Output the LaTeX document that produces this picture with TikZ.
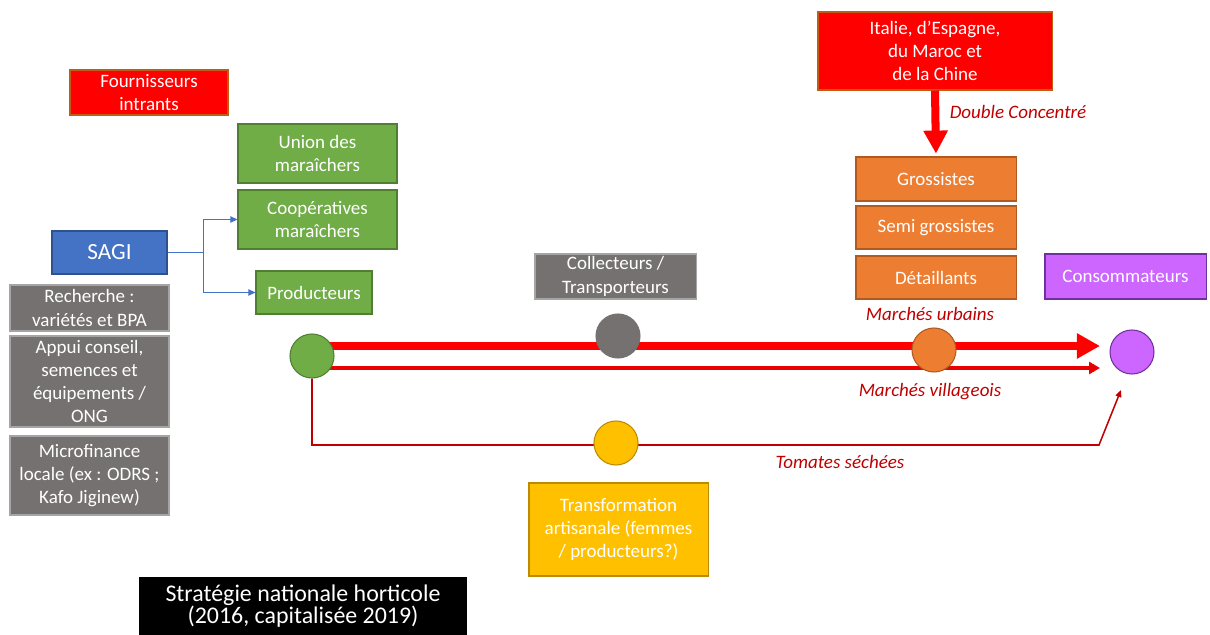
\documentclass[tikz,border=0pt]{standalone}
\usepackage{fontspec}
\setmainfont{Carlito}
\usepackage{tikz}
\usetikzlibrary{arrows.meta,backgrounds}
\definecolor{figred}{RGB}{255,0,0}
\definecolor{figredline}{RGB}{197,90,17}
\definecolor{figgreen}{RGB}{112,173,71}
\definecolor{figgreenline}{RGB}{80,126,50}
\definecolor{figblue}{RGB}{68,114,196}
\definecolor{figblueline}{RGB}{47,82,143}
\definecolor{figgrey}{RGB}{118,113,113}
\definecolor{figgreyline}{RGB}{165,165,165}
\definecolor{figorange}{RGB}{237,125,49}
\definecolor{figorangeline}{RGB}{174,90,33}
\definecolor{figpurple}{RGB}{204,102,255}
\definecolor{figpurpleline}{RGB}{112,48,160}
\definecolor{figyellow}{RGB}{255,192,0}
\definecolor{figyellowline}{RGB}{188,140,0}
\definecolor{figlab}{RGB}{192,0,0}
\definecolor{figflow}{RGB}{235,0,0}
\tikzset{
  box/.style   ={rectangle, line width=0.75pt, text=white, align=center, inner sep=1pt,
                 font=\fontsize{13.5}{16.5}\selectfont},
  redbox/.style={box, fill=figred, draw=figredline},
  grnbox/.style={box, fill=figgreen, draw=figgreenline},
  grybox/.style={box, fill=figgrey, draw=figgreyline},
  orgbox/.style={box, fill=figorange, draw=figorangeline},
  dot/.style   ={circle, minimum size=1.1cm, inner sep=0pt, line width=0.75pt},
  lab/.style   ={font=\fontsize{13.5}{16}\selectfont\itshape, text=figlab, inner sep=1pt},
  bigflow/.style ={draw=figred, line width=5pt, -{Triangle[length=16.4pt,width=17pt]}},
  thinflow/.style={draw=figflow, line width=2.2pt, -{Triangle[length=7.8pt,width=8.5pt]}},
  tomflow/.style ={draw=figlab, line width=1.1pt, -{Triangle[length=5pt,width=4.3pt]}},
  sagiptr/.style ={draw=figblue, line width=0.75pt, -{Triangle[length=5pt,width=4.5pt]}},
}

\begin{document}
\begin{tikzpicture}[x=0.025cm, y=-0.025cm]
  \useasboundingbox (0,0) rectangle (1210,635);

  % actors on the left
  \node[redbox, minimum width=3.95cm, minimum height=1.125cm] (fourn) at (149,92.5) {Fournisseurs\\intrants};
  \node[grnbox, minimum width=3.975cm, minimum height=1.475cm] (union) at (317.5,153.5) {Union des\\maraîchers};
  \node[grnbox, minimum width=3.975cm, minimum height=1.475cm] (coop) at (317.5,219.5) {Coopératives\\maraîchers};
  \node[box, fill=figblue, draw=figblueline, minimum width=2.875cm, minimum height=1.075cm,
        font=\fontsize{16.5}{20}\selectfont] (sagi) at (109.5,252.5) {SAGI};
  \node[grnbox, minimum width=2.9cm, minimum height=1.075cm] (prod) at (314,292.5) {Producteurs};
  \node[grybox, minimum width=3.975cm, minimum height=1.15cm] (rech) at (89.5,308) {Recherche :\\variétés et BPA};
  \node[grybox, minimum width=3.975cm, minimum height=2.275cm] (appui) at (89.5,381.5) {Appui conseil,\\semences et\\équipements /\\ONG};
  \node[grybox, minimum width=3.975cm, minimum height=1.975cm] (micro) at (89.5,475.5) {Microfinance\\locale (ex : ODRS ;\\Kafo Jiginew)};

  \draw[sagiptr] (sagi.east) -- ++(36,0) |- (coop.west);
  \draw[sagiptr] (sagi.east) -- ++(36,0) |- (prod.west);

  % middle and right
  \node[grybox, minimum width=4.025cm, minimum height=1.125cm] (coll) at (615.5,276.5) {Collecteurs /\\Transporteurs};
  \node[box, fill=figyellow, draw=figyellowline, minimum width=4.475cm, minimum height=2.325cm] (transf) at (618.5,529.5) {Transformation\\artisanale (femmes\\/ producteurs?)};
  \node[redbox, minimum width=5.85cm, minimum height=1.95cm] (impo) at (935,51) {Italie, d’Espagne,\\du Maroc et\\de la Chine};
  \node[orgbox, minimum width=4cm, minimum height=1.1cm] (gros) at (936,179) {Grossistes};
  \node[orgbox, minimum width=4cm, minimum height=1.075cm] (semi) at (936,227.5) {Semi grossistes};
  \node[orgbox, minimum width=4cm, minimum height=1.075cm] (detail) at (936,277.5) {Détaillants};
  \node[box, fill=figpurple, draw=figpurpleline, minimum width=4.025cm, minimum height=1.125cm] (cons) at (1125.5,276.5) {Consommateurs};

  \draw[draw=figred, line width=5.7pt, -{Triangle[length=16.4pt,width=16.4pt]}, shorten >=2pt] (impo.south) -- (gros.north);
  \node[lab] (dbl) at (1018,112) {Double Concentré};

  % chain
  \node[dot, fill=figgreen, draw=figgreenline] (pc) at (312,356) {};
  \node[dot, fill=figgrey, draw=figgrey] (cc) at (618,336) {};
  \node[dot, fill=figorange, draw=figorangeline] (oc) at (934,350) {};
  \node[dot, fill=figpurple, draw=figpurpleline] (uc) at (1132,352) {};
  \node[dot, fill=figyellow, draw=figyellowline] (yc) at (616,443) {};

  \coordinate (urbEnd) at (1100,346);
  \coordinate (vilEnd) at (1100,368);
  \coordinate (tomBend) at (1099,445);
  \coordinate (tomEnd) at (1121,390);
  \begin{pgfonlayer}{background}
    \draw[bigflow] (pc.center |- urbEnd) -- (urbEnd);
    \draw[thinflow] (pc.center |- vilEnd) -- (vilEnd);
    \draw[tomflow] (pc.south) |- (tomBend) -- (tomEnd);
  \end{pgfonlayer}

  \node[lab] (urb) at (930,314) {Marchés urbains};
  \node[lab] (vil) at (930,392) {Marchés villageois};
  \node[lab] (tom) at (840,462) {Tomates séchées};

  \node[box, fill=black, draw=black, minimum width=8.15cm, minimum height=1.425cm,
        font=\fontsize{17}{15.8}\selectfont] (sno) at (303,606.5) {Stratégie nationale horticole\\(2016, capitalisée 2019)};
\end{tikzpicture}
\end{document}
